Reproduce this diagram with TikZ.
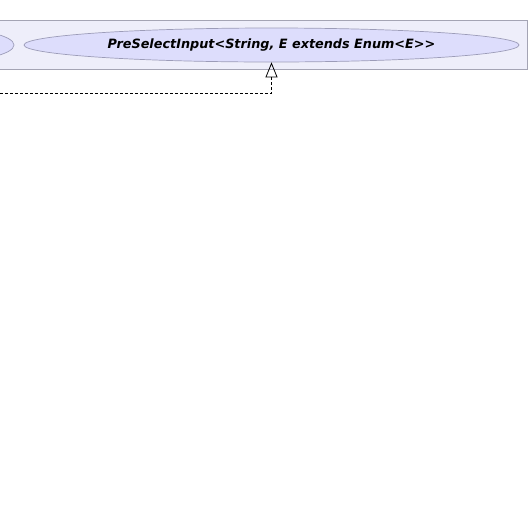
\documentclass[tikz,border=0pt]{standalone}
\usepackage{fontspec}
\newfontfamily\umlfont{DejaVu Sans}
\usepackage{xcolor}
\usepackage{tikz}
\usetikzlibrary{shapes,arrows.meta,positioning,calc}
\definecolor{pkgfill}{HTML}{EEEEFA}
\definecolor{pkgline}{HTML}{A4A4B4}
\definecolor{usefill}{HTML}{DDDDFC}
\definecolor{useline}{HTML}{9C9CB8}

\begin{document}
\begin{tikzpicture}[x=1pt, y=-1pt,
  pkgbox/.style={draw=pkgline, fill=pkgfill, line width=0.8pt, inner sep=0pt},
  usecase/.style={ellipse, draw=useline, fill=usefill, line width=0.7pt, inner sep=0pt,
    font=\umlfont\bfseries\itshape\fontsize{12.8}{15}\selectfont},
  realize/.style={dashed, dash pattern=on 3pt off 2pt, line width=0.8pt,
    -{Triangle[open, length=15pt, width=12pt, line width=0.8pt]}}]
\useasboundingbox (0,0) rectangle (530,523);
\clip (0,0) rectangle (530,523);
% Package frame
\node (pkg) [pkgbox, minimum width=577pt, minimum height=49pt] at (238.5,44.5) {};
% Use cases
\node (prev) [usecase, minimum width=150pt, minimum height=34pt] at (-61,45) {};
\node (input) [usecase, minimum width=495pt, minimum height=34pt] at (271.5,45)
  {PreSelectInput<String, E extends Enum<E>>};
% Realization
\coordinate (from) at (-5,93.5);
\draw[realize] (from) -| (input.south);
\end{tikzpicture}
\end{document}
